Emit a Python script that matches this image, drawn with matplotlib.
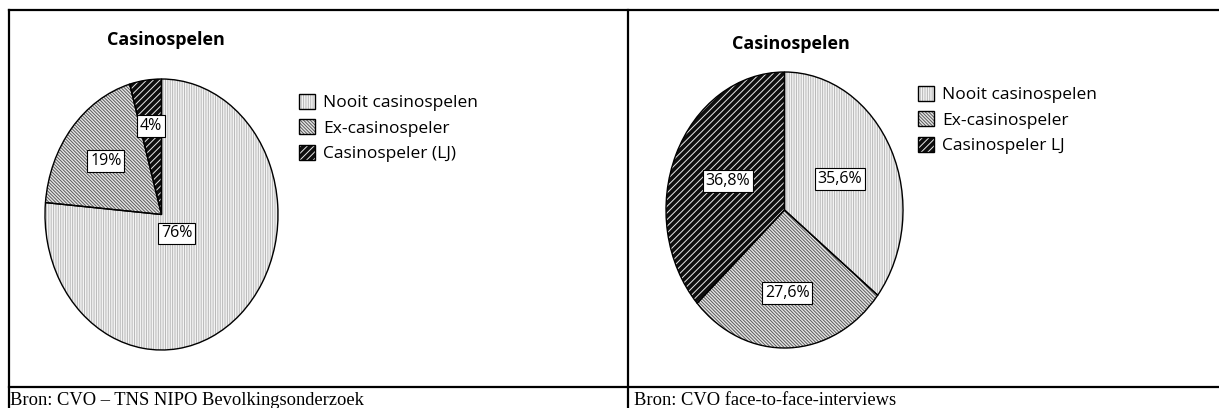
import matplotlib

matplotlib.use("Agg")
import matplotlib.pyplot as plt
import numpy as np
from matplotlib.legend_handler import HandlerTuple

W, H = 1219, 408

title = "Casinospelen"
categories_left = ["Nooit casinospelen", "Ex-casinospeler", "Casinospeler (LJ)"]
shares_left = [76.4, 19.2, 4.4]
categories_right = ["Nooit casinospelen", "Ex-casinospeler", "Casinospeler LJ"]
shares_right = [35.6, 27.6, 36.8]
source_left = "Bron: CVO – TNS NIPO Bevolkingsonderzoek"
source_right = "Bron: CVO face-to-face-interviews"

# fill / hatch styling per category
FACE = ["#f4f4f4", "#e6e6e6", "#0e0e0e"]
HATCH = ["|" * 7, "\\" * 10, "/" * 5]
HATCH_COLOR = ["#b8b8b8", "#5a5a5a", "#e8e8e8"]
SANS = ["Open Sans", "DejaVu Sans"]

plt.rcParams["hatch.linewidth"] = 0.7
fig = plt.figure(figsize=(W / 100, H / 100), dpi=100)


def px(x, y):
    return x / W, 1 - y / H


def draw_pie(box, shares, cats, fmt, label_r, legend_at, title_at):
    l, t, r, b = box
    ax = fig.add_axes([l / W, 1 - b / H, (r - l) / W, (b - t) / H])
    fills, _ = ax.pie(shares, startangle=90, counterclock=False, colors=FACE,
                      wedgeprops=dict(linewidth=0))
    for w, h, c in zip(fills, HATCH, HATCH_COLOR):
        w.set_hatch(h)
        w.set_edgecolor(c)
        w.set_clip_on(False)
    outlines, _ = ax.pie(shares, startangle=90, counterclock=False,
                         wedgeprops=dict(facecolor="none", edgecolor="black", linewidth=1))
    for w in outlines:
        w.set_clip_on(False)
    ax.set_xlim(-1, 1)
    ax.set_ylim(-1, 1)
    ax.set_aspect("auto")

    for w, v, rr in zip(fills, shares, label_r):
        mid = np.deg2rad((w.theta1 + w.theta2) / 2)
        ax.text(rr * np.cos(mid), rr * np.sin(mid), fmt(v), ha="center", va="center",
                family=SANS, fontsize=11.5,
                bbox=dict(boxstyle="square,pad=0.18", fc="white", ec="black", lw=0.8))

    ax.legend(handles=list(zip(fills, outlines)), labels=cats,
              handler_map={tuple: HandlerTuple(ndivide=1, pad=0)},
              loc="upper left", bbox_to_anchor=px(*legend_at), bbox_transform=fig.transFigure,
              frameon=False, borderpad=0, borderaxespad=0, handlelength=0.95,
              handleheight=0.95, handletextpad=0.45, labelspacing=0.45,
              prop=dict(family=SANS, size=12.5))
    fig.text(*px(*title_at), title, ha="center", va="center", family=SANS,
             fontsize=13, fontweight="bold")


draw_pie((45, 79, 278, 350), shares_left, categories_left,
         lambda v: f"{v:.0f}%", [0.19, 0.62, 0.66], (299, 94), (166, 40))
draw_pie((666, 72, 903, 348), shares_right, categories_right,
         lambda v: f"{v:.1f}%".replace(".", ","), [0.52, 0.6, 0.52], (918, 86), (791, 44))

# table-like frame around both panels
lines = [((9, 10), (W, 10)), ((9, 387), (W, 387)), ((9, 10), (9, H)), ((628, 10), (628, H))]
for (x0, y0), (x1, y1) in lines:
    a, b = px(x0, y0), px(x1, y1)
    fig.add_artist(plt.Line2D([a[0], b[0]], [a[1], b[1]], color="black", lw=1.6))

fig.text(*px(10, 405), source_left, family="Liberation Serif", fontsize=13.3, va="baseline")
fig.text(*px(634, 405), source_right, family="Liberation Serif", fontsize=13.3, va="baseline")

fig.savefig("out.png", dpi=100)
